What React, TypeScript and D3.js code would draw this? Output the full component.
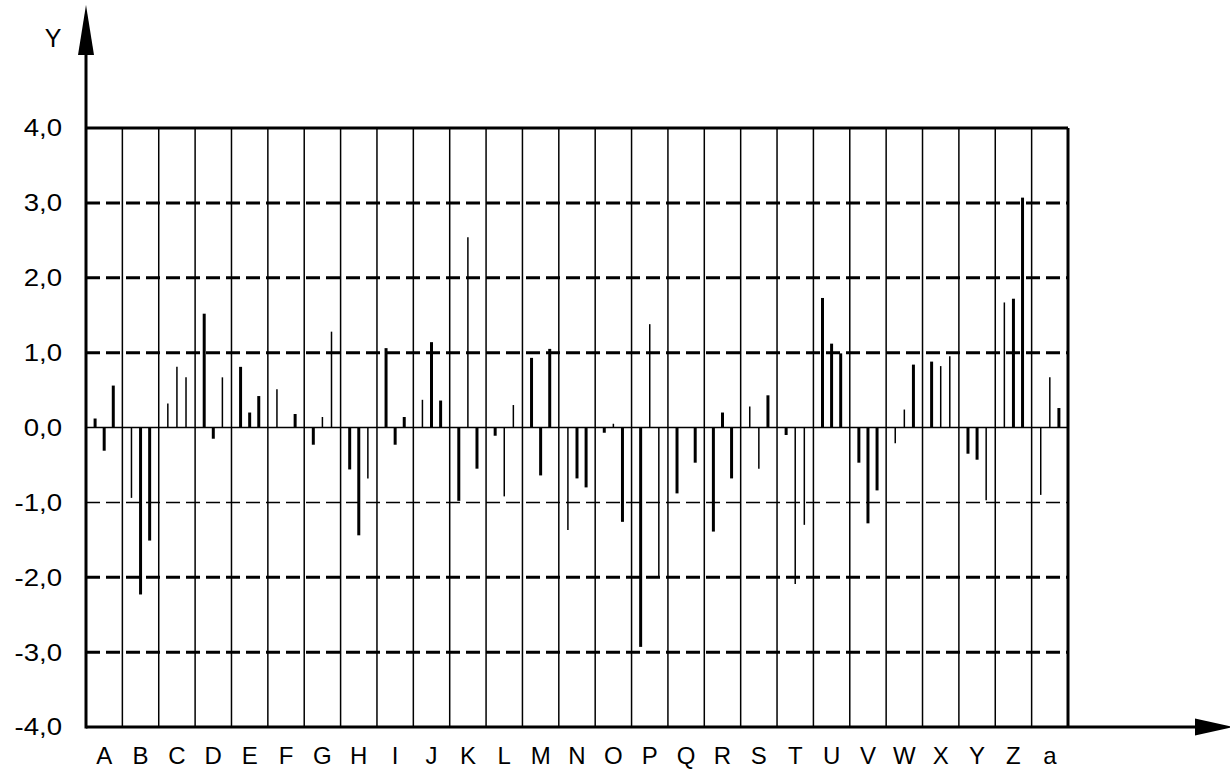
import React, { useRef, useEffect } from "react";
import * as d3 from "d3";

// column labels along the x axis
const categories = [
  "A", "B", "C", "D", "E", "F", "G", "H", "I", "J", "K", "L", "M", "N",
  "O", "P", "Q", "R", "S", "T", "U", "V", "W", "X", "Y", "Z", "a",
];

// three samples per column
const values = [
  [0.12, -0.31, 0.56], [-0.94, -2.23, -1.51], [0.32, 0.81, 0.67],
  [1.52, -0.15, 0.67], [0.81, 0.2, 0.42], [0.51, 0, 0.18],
  [-0.23, 0.14, 1.28], [-0.56, -1.44, -0.68], [1.06, -0.23, 0.14],
  [0.37, 1.14, 0.36], [-0.98, 2.54, -0.55], [-0.11, -0.92, 0.3],
  [0.93, -0.64, 1.05], [-1.37, -0.68, -0.8], [-0.07, 0.05, -1.26],
  [-2.93, 1.38, -2.0], [-0.88, 0, -0.47], [-1.39, 0.2, -0.68],
  [0.28, -0.55, 0.43], [-0.1, -2.09, -1.3], [1.73, 1.12, 0.99],
  [-0.47, -1.28, -0.84], [-0.21, 0.24, 0.84], [0.88, 0.82, 0.95],
  [-0.35, -0.43, -0.97], [1.67, 1.72, 3.07], [-0.9, 0.67, 0.26],
];

// which trace each sample belongs to: P = primary, S = secondary
const traces = [
  "PPP", "SPP", "SSS", "PPS", "PPP", "SPP", "PSS", "PPS", "PPP",
  "SPP", "PSP", "PSS", "PPP", "SPP", "PSP", "PSS", "PPP", "PPP",
  "SSP", "PSS", "PPP", "PPP", "SSP", "PSS", "PPS", "SPP", "SSP",
];

const yTicks = [-4, -3, -2, -1, 0, 1, 2, 3, 4];

const SpikeChart = () => {
  const chartRef = useRef(null);

  useEffect(() => {
    const container = d3.select(chartRef.current);
    container.select("svg").remove();

    const W = 1230;
    const H = 773;
    const left = 86, right = 1068, top = 128, bottom = 727;
    const font = "'Liberation Sans', Arial, sans-serif";

    const x = d3.scaleBand().domain(categories).range([left, right]).paddingInner(0).paddingOuter(0);
    const y = d3.scaleLinear().domain([-4, 4]).range([bottom, top]);

    const svg = container
      .append("svg")
      .attr("width", W)
      .attr("height", H)
      .style("position", "absolute")
      .style("left", "0px")
      .style("top", "0px")
      .style("background", "#fff");

    // vertical column separators
    svg
      .selectAll(".vgrid")
      .data(categories.slice(1))
      .enter()
      .append("line")
      .attr("x1", (d) => x(d))
      .attr("x2", (d) => x(d))
      .attr("y1", top)
      .attr("y2", bottom)
      .attr("stroke", "#000")
      .attr("stroke-width", 1.5);

    // horizontal grid
    svg
      .selectAll(".hgrid")
      .data(yTicks.filter((t) => t > -4 && t < 4))
      .enter()
      .append("line")
      .attr("x1", left)
      .attr("x2", right)
      .attr("y1", (d) => y(d))
      .attr("y2", (d) => y(d))
      .attr("stroke", "#000")
      .attr("stroke-width", (d) => (d === 0 || d === -1 ? 1.5 : 3))
      .attr("stroke-dasharray", (d) => (d === 0 ? null : "14,6"));

    // top and right border
    svg.append("line").attr("x1", left).attr("x2", right).attr("y1", y(4)).attr("y2", y(4))
      .attr("stroke", "#000").attr("stroke-width", 3);
    svg.append("line").attr("x1", right).attr("x2", right).attr("y1", top).attr("y2", bottom)
      .attr("stroke", "#000").attr("stroke-width", 3);

    // spikes
    const spikes = categories.flatMap((c, i) =>
      values[i].map((v, j) => ({ c, j, v, trace: traces[i][j] }))
    );
    svg
      .selectAll(".spike")
      .data(spikes.filter((d) => d.v !== 0))
      .enter()
      .append("line")
      .attr("class", "spike")
      .attr("x1", (d) => x(d.c) + (x.bandwidth() * (d.j + 1)) / 4)
      .attr("x2", (d) => x(d.c) + (x.bandwidth() * (d.j + 1)) / 4)
      .attr("y1", y(0))
      .attr("y2", (d) => y(d.v))
      .attr("stroke", "#000")
      .attr("stroke-width", (d) => (d.trace === "P" ? 3 : 1.5));

    // axes with arrows
    svg.append("line").attr("x1", left).attr("x2", left).attr("y1", bottom + 1.5).attr("y2", 50)
      .attr("stroke", "#000").attr("stroke-width", 3);
    svg.append("path").attr("d", `M${left - 8},55L${left + 8},55L${left},5Z`).attr("fill", "#000");
    svg.append("line").attr("x1", left).attr("x2", 1200).attr("y1", bottom).attr("y2", bottom)
      .attr("stroke", "#000").attr("stroke-width", 3);
    svg.append("path").attr("d", `M1195,${bottom - 8.5}L1195,${bottom + 8.5}L1234,${bottom}Z`).attr("fill", "#000");

    // y tick labels
    svg
      .selectAll(".ylab")
      .data(yTicks)
      .enter()
      .append("text")
      .attr("transform", (d) => `translate(62,${y(d)}) scale(1.15,1)`)
      .attr("dy", "0.35em")
      .attr("text-anchor", "end")
      .style("font-family", font)
      .style("font-size", "24px")
      .text((d) => d.toFixed(1).replace(".", ","));

    // x category labels
    svg
      .selectAll(".xlab")
      .data(categories)
      .enter()
      .append("text")
      .attr("x", (d) => x(d) + x.bandwidth() / 2)
      .attr("y", 764)
      .attr("text-anchor", "middle")
      .style("font-family", font)
      .style("font-size", "24px")
      .text((d) => d);

    svg.append("text").attr("x", 53).attr("y", 47).attr("text-anchor", "middle")
      .style("font-family", font).style("font-size", "25px").text("Y");
  }, []);

  return <div ref={chartRef}></div>;
};

export default function App() {
  return <SpikeChart />;
}
